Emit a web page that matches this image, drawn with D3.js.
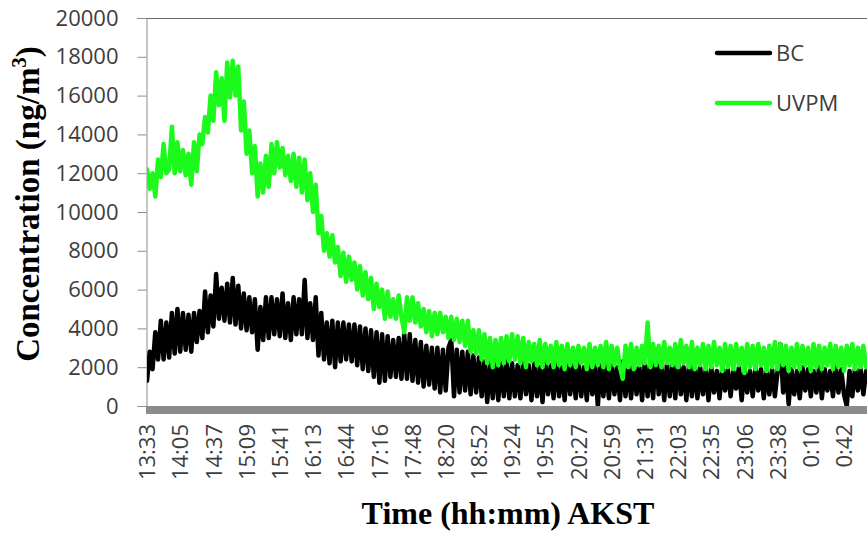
<!DOCTYPE html>
<html>
<head>
<meta charset="utf-8">
<script src="https://cdn.jsdelivr.net/npm/d3@7"></script>
<style>
  html, body { margin: 0; padding: 0; background: #fff; }
  svg { display: block; }
</style>
</head>
<body>
<svg id="chart" width="867" height="536"></svg>
<script>
// ---- data ----
const timeLabels = ["13:33","14:05","14:37","15:09","15:41","16:13","16:44","17:16","17:48","18:20","18:52",
  "19:24","19:55","20:27","20:59","21:31","22:03","22:35","23:06","23:38","0:10","0:42"];
const samplesPerLabel = 12;
const yTicks = [0,2000,4000,6000,8000,10000,12000,14000,16000,18000,20000];
const seriesNames = ["BC","UVPM"];

const bc = [
1300,2800,1900,3800,2400, 4400,2400,4300,2500,4800, 2700,5000,2800,4800,2900, 4700,2800,4800,3300,4900,
3500,5900,3800,5700,4100, 6800,4500,6100,4400,6300, 4300,6600,4200,6200,4000, 5800,3900,5600,3800,5500,
2900,5100,3400,5600,3500, 5600,3700,5500,3600,5800, 3500,5300,3400,5600,3700, 5500,3700,6500,3500,5300,
3400,5600,2600,4800,2400, 4300,2200,4400,2000,4300, 2300,4300,2400,4200,2300, 4200,2100,4100,1900,4000,
1800,3900,1500,3800,1200, 3700,1300,3600,1500,3400, 1500,3500,1400,3700,1400, 3700,1300,3400,1200,3300,
1000,3100,1100,3000,900, 3000,700,2900,800,3000, 3400,500,2900,700,2800, 800,2800,600,2600,700,
2500,500,2300,200,2200, 400,2300,300,2200,500, 2300,400,2200,500,2100, 400,2300,600,2100,300,
2200,500,2000,200,2300, 600,2100,400,2300,500, 2000,300,2200,600,2100, 400,2300,500,2000,300,
2200,600,2100,0,2300, 500,2100,400,2200,600, 2000,300,2300,500,2100, 400,2200,600,2000,300,
2300,500,2100,400,2900, 600,2000,300,2200,500, 2100,400,2300,600,2000, 300,2200,500,2100,400,
2000,600,1900,300,2000, 700,1800,400,2000,800, 1900,500,1800,900,2000, 300,1900,700,1800,500,
2000,800,1900,400,1800, 600,1900,500,1800,3200, 700,2000,100,1900,600, 1800,400,2000,800,1900,
500,1800,700,2000,400, 1900,800,1800,500,2000, 700,1900,600,0,1800, 500,2000,800,1900,600,
1800
];

const uvpm = [
12200,11200,12000,10800,12700, 11800,13500,12000,12200,14400, 12000,13600,12100,13200,11900, 13000,11400,13600,12100,14000,
13500,14900,14100,16000,14700, 17200,15500,16900,14700,17700, 15900,17800,16000,17500,14200, 15700,13000,14200,12000,13400,
10800,12500,11000,12900,11300, 13500,12000,13600,12300,13300, 11900,12900,11600,13000,11300, 12800,11000,12700,10600,12000,
10000,11400,8900,9800,8000, 8900,7700,8800,7400,8200, 6700,7900,6400,7700,6500, 7400,6000,7200,5700,6900,
5500,6600,5000,6300,5100, 6000,4500,5900,4600,5500, 4500,5700,4600,3800,5600, 4400,5600,4300,5300,4100,
5000,3800,4900,3600,4800, 3700,4800,3800,4600,3500, 4600,3400,4500,3300,4400, 3100,4400,2800,3900,2700,
3900,2400,3700,2200,3500, 2000,3400,2100,3500,2200, 3600,2300,3700,2400,3600, 2200,3500,2000,3300,2300,
3200,2100,3400,2000,3200, 2200,3100,2000,3300,2100, 3100,1900,3200,2100,3000, 2000,3100,2200,3000,1900,
3200,2000,3000,2100,3100, 2000,3300,1900,3100,2100, 3000,2000,1400,3100,2000, 3200,1900,3000,2100,3100,
2200,4300,2000,3200,2100, 3100,2000,3300,2200,3000, 2100,3200,2000,3400,2200, 3100,2000,3300,1900,3000,
2100,3200,1900,3100,2000, 3300,2100,3000,1800,3200, 2000,3100,1900,3200,2100, 3000,1700,3200,2000,3100,
1900,3200,2100,3000,1800, 3100,2000,3300,1900,3200, 2100,3100,1800,3000,2000, 3200,1900,3100,2100,3000,
1800,3200,2000,3100,1900, 3000,2100,3200,1900,3100, 2000,3000,1800,3100,2100, 3200,1900,3000,2000,3100,
2000
];

// ---- drawing ----
const svg = d3.select("#chart");
svg.append("rect").attr("width", 867).attr("height", 536).attr("fill", "#fff");

const plotL = 146, plotR = 867, plotT = 18, plotB = 406;

const x = d3.scaleLinear()
  .domain([0, (timeLabels.length - 1) * samplesPerLabel])
  .range([147, 844]);
const y = d3.scaleLinear().domain([0, 20000]).range([plotB, plotT]);

const tickFont = "'Open Sans', 'DejaVu Sans', sans-serif";
const textCol = "#3d3d3d";
const axisCol = "#8c8c8c";

// top border
svg.append("line")
  .attr("x1", 137).attr("x2", plotR).attr("y1", plotT + 0.5).attr("y2", plotT + 0.5)
  .attr("stroke", "#6b6b6b").attr("stroke-width", 1.2);

// y axis
const yAxis = svg.append("g")
  .attr("transform", `translate(${plotL + 0.5},0)`)
  .call(d3.axisLeft(y).tickValues(yTicks).tickSize(9).tickPadding(19).tickFormat(d3.format("d")));
yAxis.select(".domain").attr("stroke", axisCol);
yAxis.selectAll(".tick line").attr("stroke", axisCol);
yAxis.selectAll(".tick text")
  .attr("font-family", tickFont).attr("font-size", 22).attr("fill", textCol);

// clip
svg.append("clipPath").attr("id", "plotclip")
  .append("rect").attr("x", plotL + 1).attr("y", 0).attr("width", plotR - plotL).attr("height", plotB + 4);

const line = d3.line().x((d, i) => x(i)).y(d => y(d));
const plot = svg.append("g").attr("clip-path", "url(#plotclip)");
plot.append("path").datum(bc)
  .attr("d", line).attr("fill", "none").attr("stroke", "#000")
  .attr("stroke-width", 4.5).attr("stroke-linejoin", "round").attr("stroke-linecap", "round");
plot.append("path").datum(uvpm)
  .attr("d", line).attr("fill", "none").attr("stroke", "#1cfa1c")
  .attr("stroke-width", 4.5).attr("stroke-linejoin", "round").attr("stroke-linecap", "round");

// x axis (thick gray bar)
svg.append("rect")
  .attr("x", plotL).attr("y", plotB).attr("width", plotR - plotL).attr("height", 8)
  .attr("fill", axisCol);

const xAxis = svg.append("g")
  .attr("transform", `translate(0,${plotB + 8})`)
  .call(d3.axisBottom(x)
    .tickValues(timeLabels.map((t, k) => k * samplesPerLabel))
    .tickFormat((d, i) => timeLabels[i])
    .tickSize(0));
xAxis.select(".domain").remove();
xAxis.selectAll(".tick text")
  .attr("font-family", tickFont).attr("font-size", 22).attr("fill", textCol)
  .attr("transform", "rotate(-90)")
  .attr("text-anchor", "end")
  .attr("x", -10).attr("y", 0).attr("dy", "0.35em");

// legend
const legendCols = ["#000", "#1cfa1c"];
const legend = svg.append("g");
seriesNames.forEach((name, i) => {
  const ly = 53 + i * 50;
  legend.append("line").attr("x1", 717).attr("x2", 770).attr("y1", ly).attr("y2", ly)
    .attr("stroke", legendCols[i]).attr("stroke-width", 4.5).attr("stroke-linecap", "round");
  legend.append("text").attr("x", 776).attr("y", ly).attr("dy", "0.35em")
    .attr("font-family", tickFont).attr("font-size", 22).attr("fill", textCol).text(name);
});

// titles
const titleFont = "'Liberation Serif', 'Times New Roman', serif";
svg.append("text")
  .attr("x", 508).attr("y", 524).attr("text-anchor", "middle")
  .attr("font-family", titleFont).attr("font-weight", "bold").attr("font-size", 32).attr("fill", "#000")
  .text("Time (hh:mm) AKST");

const yt = svg.append("text")
  .attr("transform", "translate(39,204) rotate(-90)")
  .attr("text-anchor", "middle")
  .attr("font-family", titleFont).attr("font-weight", "bold").attr("font-size", 33).attr("fill", "#000");
yt.append("tspan").text("Concentration  (ng/m");
yt.append("tspan").attr("font-size", 21).attr("dy", -13).text("3");
yt.append("tspan").attr("dy", 13).text(")");
</script>
</body>
</html>
